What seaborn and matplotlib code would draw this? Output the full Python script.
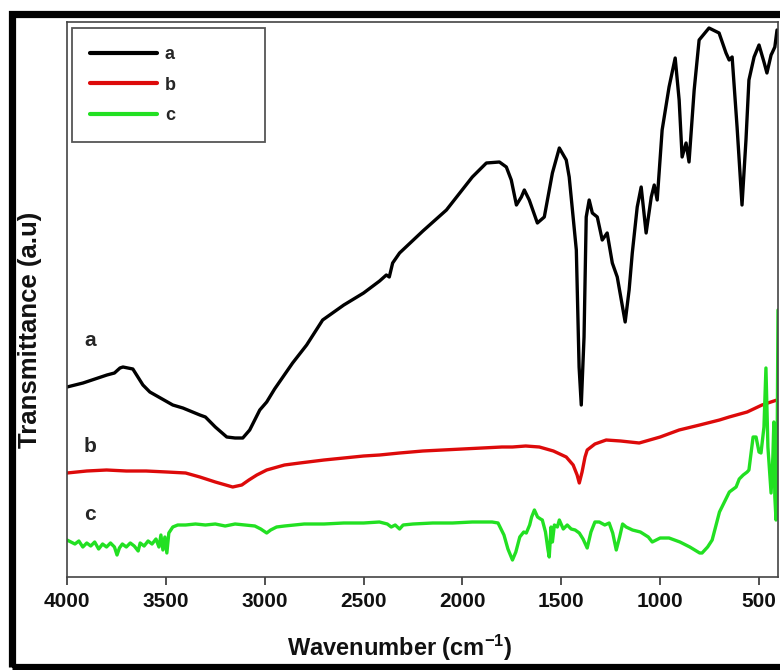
import matplotlib
matplotlib.use('Agg')
import matplotlib.pyplot as plt
import seaborn as sns
import pandas as pd
from matplotlib.patches import Rectangle

# FTIR spectra, transmittance in arbitrary units
wn_a = [4000, 3919, 3798, 3760, 3732, 3717, 3667, 3616, 3581, 3465, 3414, 3328,
        3300, 3250, 3192, 3150, 3111, 3076, 3025, 2990, 2950, 2859, 2788, 2707,
        2600, 2500, 2419, 2385, 2370, 2353, 2318, 2200, 2081, 1950, 1879, 1813,
        1778, 1753, 1727, 1702, 1687, 1662, 1621, 1586, 1545, 1510, 1475, 1460,
        1424, 1410, 1399, 1385, 1374, 1359, 1343, 1318, 1293, 1268, 1242, 1217,
        1177, 1157, 1141, 1116, 1096, 1071, 1045, 1030, 1015, 990, 955, 924,
        904, 889, 869, 854, 828, 803, 753, 702, 667, 651, 636, 611, 586, 566,
        551, 525, 500, 475, 460, 439, 434, 420, 409]
t_a = [190, 194, 202, 204, 209, 210, 208, 192, 185, 172, 169, 162,
       160, 150, 140, 139, 139, 147, 167, 175, 188, 214, 232, 257,
       272, 284, 296, 302, 300, 314, 324, 346, 367, 400, 414, 415,
       410, 397, 372, 380, 387, 377, 354, 360, 404, 429, 417, 400,
       327, 210, 172, 240, 360, 377, 364, 360, 337, 344, 314, 300,
       255, 287, 324, 370, 390, 344, 380, 392, 377, 447, 490, 519,
       477, 420, 434, 415, 487, 537, 549, 544, 524, 517, 520, 450, 372, 437,
       497, 520, 532, 515, 504, 522, 524, 530, 547]

wn_b = [4000, 3900, 3800, 3700, 3600, 3495, 3400, 3328, 3250, 3162, 3116, 3080,
        3040, 2990, 2900, 2823, 2700, 2600, 2500, 2419, 2318, 2200, 2100, 2000,
        1900, 1800, 1747, 1680, 1611, 1540, 1475, 1440, 1420, 1409, 1395, 1380,
        1369, 1330, 1273, 1200, 1106, 1000, 904, 800, 700, 651, 560, 485, 440, 409]
t_b = [104, 106, 107, 106, 106, 105, 104, 100, 95, 90, 92, 97,
       102, 107, 112, 114, 117, 119, 121, 122, 124, 126, 127, 128,
       129, 130, 130, 131, 130, 126, 120, 112, 102, 94, 105, 120,
       127, 133, 137, 136, 134, 140, 147, 152, 157, 160, 165, 172, 175, 177]

wn_c = [4000, 3980, 3960, 3940, 3920, 3900, 3880, 3860, 3840, 3820, 3800, 3780,
        3760, 3747, 3735, 3720, 3700, 3680, 3660, 3640, 3630, 3610, 3590, 3570,
        3550, 3535, 3525, 3515, 3505, 3495, 3485, 3465, 3440, 3400, 3350, 3300,
        3250, 3200, 3150, 3100, 3050, 3020, 2990, 2970, 2940, 2900, 2850, 2800,
        2700, 2600, 2500, 2420, 2380, 2360, 2340, 2318, 2300, 2250, 2150, 2050,
        1950, 1850, 1820, 1790, 1770, 1747, 1730, 1710, 1690, 1677, 1660, 1650,
        1636, 1620, 1605, 1596, 1580, 1568, 1561, 1552, 1545, 1535, 1520, 1510,
        1490, 1470, 1450, 1430, 1409, 1390, 1369, 1350, 1330, 1308, 1280, 1258,
        1240, 1222, 1205, 1190, 1172, 1140, 1100, 1060, 1040, 1000, 955, 900,
        850, 800, 788, 760, 737, 700, 650, 616, 600, 580, 560, 551, 530, 515,
        500, 490, 475, 465, 455, 439, 430, 425, 420, 414, 408, 404]
t_c = [37, 35, 33, 36, 30, 34, 31, 35, 28, 33, 30, 34,
       30, 22, 29, 33, 30, 34, 31, 26, 34, 31, 36, 33,
       38, 30, 42, 27, 40, 24, 44, 50, 52, 52, 53, 52,
       53, 51, 53, 52, 51, 48, 44, 47, 50, 51, 52, 53,
       53, 54, 54, 55, 53, 50, 52, 48, 52, 53, 54, 54,
       55, 55, 54, 42, 28, 17, 25, 40, 45, 44, 52, 60,
       67, 60, 58, 57, 45, 28, 20, 50, 35, 52, 50, 57,
       48, 52, 48, 47, 44, 38, 29, 45, 55, 55, 52, 54,
       44, 27, 40, 53, 50, 47, 45, 40, 35, 39, 39, 35,
       30, 24, 24, 30, 37, 65, 85, 90, 98, 102, 105, 107, 140, 140,
       125, 124, 150, 209, 130, 84, 120, 155, 80, 57, 140, 267]

samples = ['a', 'b', 'c']
colors = {'a': '#000000', 'b': '#dd0a0a', 'c': '#22e022'}
xticks = [4000, 3500, 3000, 2500, 2000, 1500, 1000, 500]

df = pd.concat([
    pd.DataFrame({'wn': wn_a, 'T': t_a, 'sample': 'a'}),
    pd.DataFrame({'wn': wn_b, 'T': t_b, 'sample': 'b'}),
    pd.DataFrame({'wn': wn_c, 'T': t_c, 'sample': 'c'}),
], ignore_index=True)

sns.set_theme(style='white')
plt.rcParams['font.family'] = ['Liberation Sans', 'DejaVu Sans']
plt.rcParams['mathtext.fontset'] = 'custom'
plt.rcParams['mathtext.rm'] = 'Liberation Sans:bold'
plt.rcParams['mathtext.it'] = 'Liberation Sans:bold'
plt.rcParams['mathtext.bf'] = 'Liberation Sans:bold'

fig = plt.figure(figsize=(7.8, 6.7), dpi=100)
ax = fig.add_axes([67 / 780, 93 / 670, 711 / 780, 555 / 670])

sns.lineplot(data=df, x='wn', y='T', hue='sample', palette=colors,
             sort=False, estimator=None, linewidth=2.4, ax=ax)

ax.set_xlim(4000, 404)
ax.set_ylim(0, 555)
ax.set_xticks(xticks)
ax.set_yticks([])
ax.tick_params(axis='x', direction='out', length=6, width=1.2, color='#333333',
               labelsize=15, pad=5, bottom=True, labelcolor='#111111')
for lbl in ax.get_xticklabels():
    lbl.set_fontweight('bold')
for sp in ax.spines.values():
    sp.set_color('#444444')
    sp.set_linewidth(1.2)

ax.set_xlabel('Wavenumber (cm$^{-1}$)', fontsize=17, fontweight='bold', color='#111111')
ax.xaxis.set_label_coords(0.468, -0.1)
ax.set_ylabel('Transmittance (a.u)', fontsize=18.5, fontweight='bold', color='#111111')
ax.yaxis.set_label_coords(-0.035, 0.445)

# curve labels on the left
ax.text(3884, 237, 'a', fontsize=15, fontweight='bold', ha='center', va='center')
ax.text(3884, 130, 'b', fontsize=15, fontweight='bold', ha='center', va='center')
ax.text(3884, 62, 'c', fontsize=15, fontweight='bold', ha='center', va='center')

handles, labels = ax.get_legend_handles_labels()
leg = ax.legend(handles, labels, loc='upper left',
                bbox_to_anchor=(0.007, 0.5, 0.271, 0.489), mode='expand',
                borderaxespad=0, frameon=True, fancybox=False, framealpha=1,
                edgecolor='#555555', prop={'weight': 'bold', 'size': 13},
                handlelength=3.7, handletextpad=0.45, labelspacing=0.75,
                borderpad=1.0)
leg.get_frame().set_linewidth(1.3)
for h in leg.get_lines():
    h.set_linewidth(3)

# thick black frame round the picture
fig.patches.append(Rectangle((11.5 / 780, 3 / 670), 1.2, 1 - 13.5 / 670 - 3 / 670,
                             transform=fig.transFigure, fill=False,
                             edgecolor='black', linewidth=5.2))

fig.savefig('out.png', dpi=100)
